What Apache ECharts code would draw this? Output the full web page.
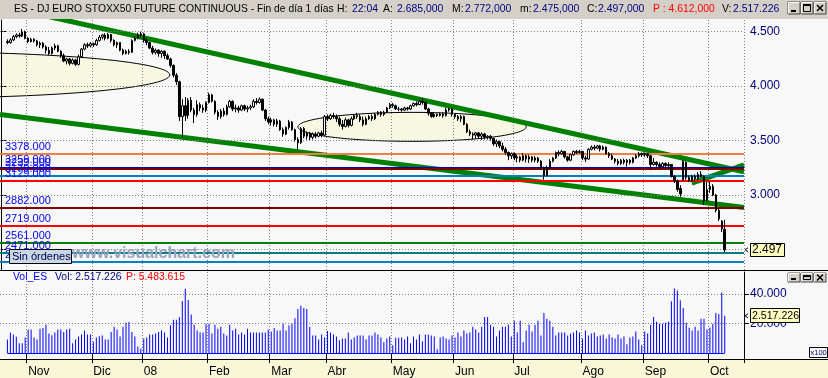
<!DOCTYPE html>
<html><head><meta charset="utf-8">
<script src="https://cdn.jsdelivr.net/npm/echarts@6/dist/echarts.min.js"></script>
<style>html,body{margin:0;padding:0;background:#F8F8F8;}#c{width:828px;height:378px;}</style>
</head><body><div id="c"></div>
<script>
// ---------- DATA ----------
const months = ['~', 'Nov', 'Dic', '08', 'Feb', 'Mar', 'Abr', 'May', 'Jun', 'Jul', 'Ago', 'Sep', 'Oct'];
const monthBars = [7, 22, 17, 22, 21, 19, 22, 21, 20, 23, 21, 22, 6];
const leadBlank = 2, trailBlank = 6;

// [open, close, low, high]
const ohlc = [
[4410,4400,4385,4430],[4400,4425,4390,4440],[4425,4455,4415,4470],[4455,4470,4440,4485],[4470,4460,4445,4490],[4460,4500,4450,4525],[4500,4440,4430,4510],
[4440,4410,4395,4450],[4410,4430,4400,4445],[4430,4415,4400,4440],[4415,4380,4365,4425],[4380,4395,4350,4410],[4395,4360,4345,4405],[4360,4330,4300,4375],[4330,4300,4285,4360],[4300,4350,4290,4365],[4350,4370,4330,4390],[4370,4320,4310,4380],[4320,4280,4260,4330],[4280,4230,4220,4300],[4230,4250,4200,4260],[4250,4210,4190,4260],[4210,4240,4200,4255],[4240,4200,4185,4250],[4200,4270,4190,4290],[4270,4340,4260,4350],[4340,4380,4330,4395],[4380,4370,4350,4400],[4370,4390,4355,4405],
[4390,4380,4360,4400],[4380,4420,4370,4435],[4420,4450,4410,4470],[4450,4470,4430,4480],[4470,4440,4420,4485],[4440,4475,4430,4490],[4475,4420,4400,4480],[4420,4380,4365,4430],[4380,4400,4350,4410],[4400,4330,4320,4405],[4330,4300,4285,4345],[4300,4320,4290,4335],[4320,4310,4290,4340],[4310,4420,4305,4430],[4420,4440,4410,4460],[4440,4470,4430,4490],[4470,4480,4450,4500],
[4480,4420,4400,4490],[4420,4400,4375,4440],[4400,4350,4340,4410],[4350,4310,4290,4370],[4310,4330,4290,4345],[4330,4300,4270,4340],[4300,4320,4260,4330],[4320,4280,4250,4330],[4280,4250,4240,4300],[4250,4190,4170,4260],[4190,4100,4080,4200],[4100,4040,4010,4120],[4040,3720,3680,4050],[3720,3820,3530,3880],[3820,3730,3680,3900],[3730,3870,3700,3890],[3870,3780,3760,3900],[3780,3740,3660,3800],[3740,3830,3720,3870],[3830,3800,3770,3850],[3800,3780,3755,3830],[3780,3850,3760,3860],
[3850,3920,3840,3940],[3920,3860,3850,3930],[3860,3760,3740,3870],[3760,3720,3690,3780],[3720,3770,3700,3790],[3770,3740,3720,3800],[3740,3810,3730,3830],[3810,3860,3800,3875],[3860,3790,3770,3870],[3790,3800,3760,3830],[3800,3780,3755,3820],[3780,3820,3770,3830],[3820,3790,3770,3830],[3790,3800,3760,3820],[3800,3810,3780,3830],[3810,3860,3800,3880],[3860,3850,3830,3890],[3850,3880,3840,3895],[3880,3780,3770,3885],[3780,3700,3680,3790],[3700,3670,3650,3720],
[3670,3690,3640,3710],[3690,3650,3630,3700],[3650,3680,3625,3700],[3680,3600,3590,3690],[3600,3560,3535,3620],[3560,3620,3550,3630],[3620,3670,3600,3690],[3670,3600,3590,3680],[3600,3510,3490,3610],[3510,3480,3415,3530],[3480,3610,3470,3625],[3610,3540,3520,3625],[3540,3570,3510,3585],[3570,3530,3505,3580],[3530,3560,3510,3575],[3560,3540,3520,3580],[3540,3570,3530,3580],[3570,3550,3530,3590],[3550,3720,3545,3735],
[3720,3700,3680,3740],[3700,3730,3690,3745],[3730,3720,3700,3755],[3720,3700,3670,3740],[3700,3650,3630,3720],[3650,3630,3600,3690],[3630,3690,3620,3710],[3690,3640,3620,3700],[3640,3700,3630,3720],[3700,3730,3690,3745],[3730,3720,3700,3755],[3720,3690,3670,3740],[3690,3650,3630,3720],[3650,3700,3640,3720],[3700,3720,3690,3735],[3720,3700,3680,3740],[3700,3740,3690,3755],[3740,3760,3730,3770],[3760,3740,3720,3770],[3740,3760,3725,3775],[3760,3800,3750,3810],[3800,3830,3790,3845],
[3830,3820,3800,3845],[3820,3790,3780,3830],[3790,3790,3770,3810],[3790,3780,3765,3800],[3780,3800,3770,3810],[3800,3790,3775,3810],[3790,3820,3780,3830],[3820,3840,3810,3850],[3840,3830,3815,3860],[3830,3860,3825,3875],[3860,3850,3830,3890],[3850,3790,3780,3860],[3790,3750,3730,3800],[3750,3720,3710,3760],[3720,3740,3710,3755],[3740,3730,3715,3750],[3730,3745,3720,3755],[3745,3730,3710,3760],[3730,3780,3720,3800],[3780,3790,3765,3800],[3790,3740,3720,3800],
[3740,3720,3700,3750],[3720,3700,3680,3735],[3700,3720,3670,3735],[3720,3650,3640,3730],[3650,3580,3570,3660],[3580,3560,3540,3600],[3560,3550,3510,3575],[3550,3570,3520,3580],[3570,3540,3520,3580],[3540,3560,3505,3575],[3560,3530,3510,3570],[3530,3540,3510,3550],[3540,3520,3500,3550],[3520,3470,3450,3525],[3470,3490,3440,3510],[3490,3450,3430,3500],[3450,3420,3400,3480],[3420,3390,3370,3440],[3390,3360,3320,3400],[3360,3380,3330,3390],
[3380,3340,3320,3390],[3340,3350,3300,3370],[3350,3320,3300,3360],[3320,3360,3310,3385],[3360,3330,3300,3370],[3330,3350,3295,3370],[3350,3320,3300,3360],[3320,3340,3300,3360],[3340,3310,3295,3350],[3310,3250,3230,3320],[3250,3180,3140,3260],[3180,3250,3170,3270],[3250,3310,3240,3330],[3310,3340,3300,3350],[3340,3390,3330,3400],[3390,3380,3355,3410],[3380,3400,3370,3415],[3400,3350,3335,3405],[3350,3320,3305,3360],[3320,3370,3310,3380],[3370,3400,3360,3410],[3400,3390,3375,3415],[3390,3400,3380,3415],
[3400,3340,3320,3405],[3340,3330,3305,3360],[3330,3420,3325,3430],[3420,3440,3410,3455],[3440,3430,3410,3460],[3430,3450,3420,3460],[3450,3420,3400,3460],[3420,3440,3410,3455],[3440,3380,3370,3445],[3380,3360,3340,3395],[3360,3330,3320,3380],[3330,3310,3290,3340],[3310,3290,3270,3330],[3290,3320,3275,3330],[3320,3300,3280,3335],[3300,3320,3260,3330],[3320,3300,3280,3330],[3300,3340,3290,3350],[3340,3360,3330,3375],[3360,3380,3345,3395],[3380,3370,3350,3390],
[3370,3380,3350,3390],[3380,3360,3340,3385],[3360,3280,3230,3370],[3280,3300,3270,3340],[3300,3280,3260,3310],[3280,3260,3240,3300],[3260,3290,3250,3300],[3290,3270,3250,3300],[3270,3280,3240,3300],[3280,3170,3160,3285],[3170,3130,3110,3185],[3130,3050,3030,3140],[3060,3010,2985,3090],[3140,3310,3130,3320],[3300,3160,3140,3310],[3160,3130,3120,3180],[3130,3170,3120,3185],[3170,3150,3130,3190],[3150,3190,3140,3210],[3190,3170,3160,3220],[3170,2950,2910,3180],[2950,3050,2940,3120],
[3050,3080,3020,3120],[3080,3000,2990,3100],[3000,2860,2840,3010],[2860,2780,2760,2880],[2760,2690,2660,2770],[2685,2497,2475,2772]
];

// volume, in units of 100 (axis is "x100")
const volume = [
9240,13860,12540,11000,6600,6600,10560,15840,15840,10560,
9240,16500,16940,19140,13200,12100,13860,15840,15840,14300,
15840,16500,6600,9240,11220,12540,15180,12540,12540,7700,
10560,11440,11880,9240,9240,14300,17820,15840,11220,17820,
20460,20900,14300,11220,4400,2860,9900,10560,12540,12540,
13200,14300,15180,13860,10560,18700,22440,22440,24200,35200,
43340,35860,25960,19140,15180,13860,13860,19800,19800,13200,
19140,16500,17820,13200,11880,19140,15180,16500,12540,13860,
12540,16500,13860,13860,13860,13860,13860,13860,15840,14520,
16940,15180,15180,19800,15180,18700,19800,23540,29700,31900,
30360,29700,17600,11880,11880,9240,12540,10560,14960,13860,
12540,11220,8580,9900,9900,13860,9240,10560,11880,11880,
11880,9240,11880,11880,13860,12540,10560,7260,9900,11220,
5280,10340,10340,10560,9240,11220,6600,
11220,9240,12540,7920,12540,12540,11880,11220,2640,10560,
11220,9900,9240,11880,10560,13860,11220,15180,13200,13860,
17820,15840,13860,17820,24420,24420,19140,17820,11220,15180,
17820,17820,19140,11220,21780,13860,21780,7260,15180,19140,
14520,19140,21780,11880,27060,23100,21780,17820,11880,13860,
13860,13860,11880,13200,13860,15180,13860,9900,15180,11880,
13200,13860,11220,11880,12540,9900,12540,10560,9900,12540,
9900,11220,5940,10560,11220,14520,9240,5280,14520,13200,
19140,24420,21120,19800,19800,20460,21120,34980,43560,42240,
35640,30360,20460,17160,15180,17820,15180,23100,23100,15840,
17160,19800,27060,26400,40920,25172
];

const priceLabels = [3000, 3500, 4000, 4500];
const priceGridValues = [2500, 3000, 3500, 4000, 4500];
const volLabels = [20000, 40000];
const levelValues = [3378, 3259, 3239, 3179, 3129, 2882, 2719, 2561, 2471, 2389];
// trend lines as [categoryIndex, price]
const upperTrend = [[-0.5, 4739], [250.5, 3213]];
const lowerTrend = [[-0.5, 3739], [250.5, 2885]];
const shortTrend = [[232.9, 3110], [250.5, 3276]];
// ellipses: [centerIndex, centerPrice, radiusBars, radiusPrice]
const ellipses = [[-27.5, 4103, 84.3, 211], [138.5, 3626, 38.5, 133]];
const header = {A: 2685, M: 2772, m: 2475, C: 2497, P: 4612, V: 2517226};
const volHeader = {vol: 2517226, p: 5483615};

// ---------- STYLES ----------
const levelColors = ['#F08040','#0000C0','#800000','#0080C0','#FF0000','#800000','#FF0000','#008000','#008080','#0080C0'];
const FONT = 'Liberation Sans';
const dots = {color: '#808080', type: [1, 2], width: 1};

const fmtDot = n => String(n).replace(/\B(?=(\d{3})+(?!\d))/g, '.');
const fmtTitle = n => fmtDot(n) + ',000';

const cats = [];
for (let i = 0; i < leadBlank; i++) cats.push('~|L' + i);
months.forEach((m, mi) => { for (let k = 0; k < monthBars[mi]; k++) cats.push(m + '|' + k); });
for (let i = 0; i < trailBlank; i++) cats.push('~|T' + i);
const N = cats.length;
const isMonthStart = (idx, v) => { const p = String(v).split('|'); return p[0] !== '~' && p[1] === '0'; };

const chart = echarts.init(document.getElementById('c'), null, {renderer: 'canvas'});

const option = {
  animation: false,
  backgroundColor: '#F8F8F8',
  grid: [
    {left: 0, top: 20, width: 744, height: 250},
    {left: 0, top: 272, width: 744, height: 87}
  ],
  xAxis: [
    {type: 'category', gridIndex: 0, data: cats, boundaryGap: true,
     axisLine: {show: false}, axisTick: {show: false}, axisLabel: {show: false},
     splitLine: {show: true, interval: isMonthStart, lineStyle: dots}},
    {type: 'category', gridIndex: 1, data: cats, boundaryGap: true,
     axisLine: {show: false},
     axisTick: {show: true, interval: isMonthStart, length: 10, lineStyle: {color: '#000', width: 1}},
     axisLabel: {show: true, interval: isMonthStart, formatter: v => v.split('|')[0], align: 'left',
                 verticalAlign: 'top', margin: 9, fontSize: 12, color: '#000', fontFamily: FONT},
     splitLine: {show: true, interval: isMonthStart, lineStyle: dots}},
    {type: 'value', gridIndex: 0, min: -0.5, max: N - 0.5, show: false}
  ],
  yAxis: [
    {type: 'value', gridIndex: 0, position: 'right', min: 2311, max: 4607.5, scale: true,
     axisLine: {show: true, lineStyle: {color: '#000', width: 1}},
     axisTick: {show: true, customValues: priceGridValues, length: 5, lineStyle: {color: '#000'}},
     axisLabel: {show: true, customValues: priceLabels, formatter: v => fmtDot(v), color: '#000080',
                 fontSize: 12, fontFamily: FONT, margin: 6},
     splitLine: {show: false}},
    {type: 'value', gridIndex: 1, position: 'right', min: -2636, max: 54695,
     axisLine: {show: true, lineStyle: {color: '#000', width: 1}},
     axisTick: {show: true, customValues: volLabels, length: 5, lineStyle: {color: '#000'}},
     axisLabel: {show: true, customValues: volLabels, formatter: v => fmtDot(v), color: '#000080',
                 fontSize: 12, fontFamily: FONT, margin: 6},
     splitLine: {show: false}}
  ],
  series: [
    {type: 'custom', xAxisIndex: 2, yAxisIndex: 0, z: -1, silent: true,
     data: ellipses,
     renderItem: (params, api) => {
       const c = api.coord([api.value(0), api.value(1)]);
       const s = api.size([api.value(2), api.value(3)]);
       const pts = [];
       for (let k = 0; k < 120; k++) { const t = k / 120 * Math.PI * 2; pts.push([c[0] + s[0] * Math.cos(t), c[1] + s[1] * Math.sin(t)]); }
       const cs = params.coordSys;
       return {type: 'polygon', shape: {points: pts}, style: {fill: '#F8F8E2', stroke: '#000', lineWidth: 1},
               clipPath: {type: 'rect', shape: {x: cs.x, y: cs.y, width: cs.width, height: cs.height}}};
     }},
    {type: 'line', xAxisIndex: 0, yAxisIndex: 0, data: [], z: 1, silent: true,
     markLine: {symbol: 'none', silent: true, animation: false, label: {show: false},
                data: priceGridValues.map(v => ({yAxis: v, lineStyle: dots}))}},
    {type: 'line', xAxisIndex: 0, yAxisIndex: 0, data: [], z: 2, silent: true,
     markLine: {symbol: 'none', silent: true, animation: false,
                data: levelValues.map((v, i) => ({yAxis: v,
                  lineStyle: {color: levelColors[i], width: i === 1 ? 1 : 2, type: 'solid'},
                  label: {show: true, position: 'insideStartTop', formatter: v.toFixed(3), color: '#0000FF',
                          fontSize: 11, fontFamily: FONT, distance: [5, 1]}}))}},
    ...[upperTrend, lowerTrend, shortTrend].map(t => ({
      type: 'line', xAxisIndex: 2, yAxisIndex: 0, data: t, symbol: 'none', z: 3, silent: true, clip: true,
      lineStyle: {color: '#008000', width: 5}})),
    {type: 'candlestick', xAxisIndex: 0, yAxisIndex: 0, z: 5, barWidth: 2,
     data: ohlc.map((d, i) => [i + leadBlank, d[0], d[1], d[2], d[3]]),
     encode: {x: 0, y: [1, 2, 3, 4]},
     itemStyle: {color: '#FFFFFF', color0: '#000000', borderColor: '#000000', borderColor0: '#000000', borderWidth: 1}},
    {type: 'bar', xAxisIndex: 1, yAxisIndex: 1, barWidth: 1, z: 5,
     data: volume.map((v, i) => [i + leadBlank, v]),
     itemStyle: {color: '#0000FF'},
     markLine: {symbol: 'none', silent: true, animation: false, label: {show: false},
                data: [
                  ...volLabels.map(v => ({yAxis: v, lineStyle: dots})),
                  [{coord: [leadBlank, 0], lineStyle: {color: '#0000FF', width: 1, type: 'solid'}},
                   {coord: [leadBlank + volume.length - 1, 0]}]
                ]}}
  ]
};
chart.setOption(option);

// ---------- overlay graphics ----------
const lastClose = ohlc[ohlc.length - 1][1];
const lastVol = volume[volume.length - 1];
const yP = chart.convertToPixel({yAxisIndex: 0}, lastClose);
const yV = chart.convertToPixel({yAxisIndex: 1}, lastVol);
const TS = 10.4; // title font size

const txt = (x, y, s, color, size, extra) => Object.assign({type: 'text', x: x, y: y, z: 50,
  style: {text: s, fill: color, font: (size || TS) + 'px "' + FONT + '"', textVerticalAlign: 'middle'}}, extra || {});

function winButtons(x0, y0, h) {
  const els = [];
  const w = 12;
  [0, 1, 2].forEach(k => {
    const x = x0 + k * (w + 1);
    els.push({type: 'rect', z: 50, shape: {x: x, y: y0, width: w, height: h}, style: {fill: '#D4D0C8', stroke: '#404040', lineWidth: 1}});
    els.push({type: 'polyline', z: 51, shape: {points: [[x + 0.5, y0 + h - 0.5], [x + 0.5, y0 + 0.5], [x + w - 0.5, y0 + 0.5]]}, style: {stroke: '#FFFFFF', lineWidth: 1, fill: null}});
  });
  const cy = y0 + h / 2;
  els.push({type: 'line', z: 52, shape: {x1: x0 + 3, y1: y0 + h - 3, x2: x0 + 8, y2: y0 + h - 3}, style: {stroke: '#000', lineWidth: 2}});
  els.push({type: 'rect', z: 52, shape: {x: x0 + 13 + 2.5, y: y0 + 2.5, width: 7, height: h - 5}, style: {fill: null, stroke: '#000', lineWidth: 1}});
  els.push({type: 'line', z: 52, shape: {x1: x0 + 13 + 2.5, y1: y0 + 3, x2: x0 + 13 + 9.5, y2: y0 + 3}, style: {stroke: '#000', lineWidth: 2}});
  els.push({type: 'line', z: 52, shape: {x1: x0 + 26 + 3, y1: cy - 3, x2: x0 + 26 + 9, y2: cy + 3}, style: {stroke: '#000', lineWidth: 1.5}});
  els.push({type: 'line', z: 52, shape: {x1: x0 + 26 + 9, y1: cy - 3, x2: x0 + 26 + 3, y2: cy + 3}, style: {stroke: '#000', lineWidth: 1.5}});
  return els;
}

const g = [
  // title bar
  {type: 'rect', z: 40, shape: {x: 0, y: 0, width: 828, height: 19}, style: {fill: '#D4D0C8'}},
  txt(14, 9.5, 'ES - DJ EURO STOXX50 FUTURE CONTINUOUS - Fin de día 1 días', '#000', 10.3),
  txt(337, 9.5, 'H:', '#000'), txt(352, 9.5, '22:04', '#000080'),
  txt(383, 9.5, 'A:', '#000'), txt(397, 9.5, fmtTitle(header.A), '#000080'),
  txt(452, 9.5, 'M:', '#000'), txt(465, 9.5, fmtTitle(header.M), '#000080'),
  txt(520, 9.5, 'm:', '#000'), txt(533, 9.5, fmtTitle(header.m), '#000080'),
  txt(587, 9.5, 'C:', '#000'), txt(598, 9.5, fmtTitle(header.C), '#000080'),
  txt(653, 9.5, 'P : ' + fmtTitle(header.P), '#FF0000'),
  txt(722, 9.5, 'V:', '#000'), txt(733, 9.5, fmtDot(header.V), '#000080'),
  ...winButtons(788, 2, 12),
  // separators
  {type: 'line', z: 40, shape: {x1: 0, y1: 270.5, x2: 828, y2: 270.5}, style: {stroke: '#000', lineWidth: 1}},
  {type: 'rect', z: -10, shape: {x: 0, y: 359, width: 828, height: 19}, style: {fill: '#F8F8D8'}},
  {type: 'line', z: 40, shape: {x1: 0, y1: 359.5, x2: 828, y2: 359.5}, style: {stroke: '#000', lineWidth: 1}},
  // volume header
  txt(13, 277.5, 'Vol_ES', '#0000FF'),
  txt(55, 277.5, 'Vol: ' + fmtDot(volHeader.vol), '#000080'),
  txt(126, 277.5, 'P: ' + fmtDot(volHeader.p), '#FF0000'),
  ...winButtons(788, 273, 9),
  // watermark
  {type: 'text', x: 72, y: 254, z: 30, style: {text: 'www.visualchart.com', fill: '#9AA2C4', font: 'bold 16px "' + FONT + '"', textVerticalAlign: 'middle'}},
  // Sin órdenes
  {type: 'rect', z: 45, shape: {x: 9.5, y: 249.5, width: 62, height: 14}, style: {fill: '#C8D8E8', stroke: '#000', lineWidth: 1}},
  txt(12, 257, 'Sin órdenes', '#000040', 11),
  // x100
  {type: 'rect', z: 45, shape: {x: 809.5, y: 347.5, width: 18, height: 10}, style: {fill: '#F8F8F8', stroke: '#000', lineWidth: 1}},
  txt(810.5, 353, 'x100', '#000080', 7.5),
  // last price label
  {type: 'polyline', z: 45, shape: {points: [[748, yP - 2], [745, yP], [748, yP + 2]]}, style: {stroke: '#000', lineWidth: 1, fill: null}},
  {type: 'rect', z: 45, shape: {x: 750.5, y: Math.round(yP) - 6.5, width: 34, height: 13}, style: {fill: '#FFFFC0', stroke: '#000', lineWidth: 1}},
  txt(752, Math.round(yP), fmtDot(lastClose), '#000', 12),
  // last volume label
  {type: 'polyline', z: 45, shape: {points: [[748, yV - 2], [745, yV], [748, yV + 2]]}, style: {stroke: '#000', lineWidth: 1, fill: null}},
  {type: 'rect', z: 45, shape: {x: 750.5, y: Math.round(yV) - 7.5, width: 49, height: 14}, style: {fill: '#FFFFC0', stroke: '#000', lineWidth: 1}},
  txt(752, Math.round(yV), fmtDot(volHeader.vol), '#000', 10.6)
];
chart.setOption({graphic: g});
</script></body></html>
